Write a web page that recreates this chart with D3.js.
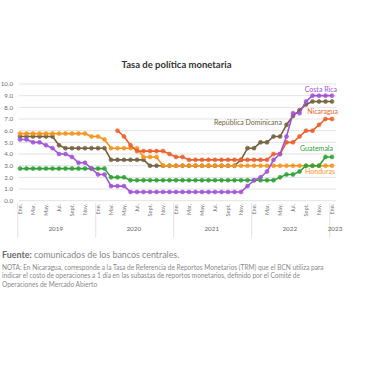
<!DOCTYPE html>
<html><head><meta charset="utf-8">
<script src="https://cdn.jsdelivr.net/npm/d3@7"></script>
<style>
html,body{margin:0;padding:0;background:#fff;}
svg{display:block;font-family:Lato,"Open Sans",sans-serif;}
</style></head>
<body><svg id="c" width="380" height="380"></svg>
<script>
const years = ["2019","2020","2021","2022","2023"];
const monthNames = ["Ene.","Feb.","Mar.","Abr.","May.","Jun.","Jul.","Ago.","Sept.","Oct.","Nov.","Dic."];
const categories = [];
years.forEach((y,yi)=>monthNames.forEach((m,mi)=>{ if(yi<4||mi===0) categories.push(y+"-"+m); }));
const shownMonths = ["Ene.","Mar.","May.","Jul.","Sept.","Nov."];
const yTicks = [0,1,2,3,4,5,6,7,8,9,10];

const costaRica = [5.25,5.25,5.0,5.0,4.75,4.5,4.0,4.0,3.75,3.25,3.25,2.75,
  2.25,2.25,1.25,1.25,1.25,0.75,0.75,0.75,0.75,0.75,0.75,0.75,
  0.75,0.75,0.75,0.75,0.75,0.75,0.75,0.75,0.75,0.75,0.75,1.25,
  1.75,2.0,2.5,3.5,4.0,5.5,7.5,7.5,8.5,9.0,9.0,9.0,
  9.0];
const repDominicana = [5.5,5.5,5.5,5.5,5.5,5.5,4.75,4.5,4.5,4.5,4.5,4.5,
  4.5,4.5,3.5,3.5,3.5,3.5,3.5,3.5,3.0,3.0,3.0,3.0,
  3.0,3.0,3.0,3.0,3.0,3.0,3.0,3.0,3.0,3.0,3.5,4.5,
  4.5,5.0,5.0,5.5,5.5,6.5,7.25,7.75,8.25,8.5,8.5,8.5,
  8.5];
const honduras = [5.75,5.75,5.75,5.75,5.75,5.75,5.75,5.75,5.75,5.75,5.75,5.5,
  5.5,5.25,4.5,4.5,4.5,4.5,4.5,3.75,3.75,3.75,3.0,3.0,
  3.0,3.0,3.0,3.0,3.0,3.0,3.0,3.0,3.0,3.0,3.0,3.0,
  3.0,3.0,3.0,3.0,3.0,3.0,3.0,3.0,3.0,3.0,3.0,3.0,
  3.0];
const nicaragua = [null,null,null,null,null,null,null,null,null,null,null,null,
  null,null,null,6.0,5.5,4.75,4.25,4.25,4.25,4.25,4.25,4.0,
  3.75,3.75,3.5,3.5,3.5,3.5,3.5,3.5,3.5,3.5,3.5,3.5,
  3.5,3.5,3.5,4.0,4.0,5.0,5.0,5.5,6.0,6.0,6.5,7.0,
  7.0];
const guatemala = [2.75,2.75,2.75,2.75,2.75,2.75,2.75,2.75,2.75,2.75,2.75,2.75,
  2.75,2.75,2.0,2.0,2.0,1.75,1.75,1.75,1.75,1.75,1.75,1.75,
  1.75,1.75,1.75,1.75,1.75,1.75,1.75,1.75,1.75,1.75,1.75,1.75,
  1.75,1.75,1.75,1.75,2.0,2.25,2.25,2.5,3.0,3.0,3.0,3.75,
  3.75];

const series = [
  {name:"República Dominicana", values:repDominicana, color:"#75603f", lx:282, ly:125},
  {name:"Honduras", values:honduras, color:"#f7941d", lx:335, ly:174},
  {name:"Guatemala", values:guatemala, color:"#2fa236", lx:333, ly:151},
  {name:"Nicaragua", values:nicaragua, color:"#ec5f2a", lx:338, ly:114},
  {name:"Costa Rica", values:costaRica, color:"#a154d8", lx:337, ly:92}
];

const svg = d3.select("#c");
const x = d3.scalePoint().domain(categories).range([20,332]);
const y = d3.scaleLinear().domain([0,10]).range([200.7,84]);

// grid
svg.append("g").selectAll("line").data(yTicks).join("line")
  .attr("x1",19).attr("x2",336).attr("y1",d=>y(d)).attr("y2",d=>y(d))
  .attr("stroke","#e3e3e3").attr("stroke-width",1);
svg.append("g").selectAll("text").data(yTicks).join("text")
  .attr("x",13).attr("y",d=>y(d)).attr("dy","0.35em").attr("text-anchor","end")
  .attr("font-size",6.2).attr("fill","#6b6b6b").text(d=>d.toFixed(1));

// x tick labels
const tickCats = categories.filter(c=>shownMonths.includes(c.split("-")[1]));
svg.append("g").selectAll("text").data(tickCats).join("text")
  .attr("transform",d=>`translate(${x(d)+2},204) rotate(-90)`)
  .attr("text-anchor","end").attr("font-size",5.6).attr("fill","#777")
  .text(d=>d.split("-")[1]);

// year separators & labels
const step = x.step();
years.forEach((yr,i)=>{
  const first = x(yr+"-Ene.");
  svg.append("line").attr("x1",first-step/2+1).attr("x2",first-step/2+1)
    .attr("y1",203).attr("y2",238).attr("stroke","#e3e3e3").attr("stroke-width",1);
  const last = i<4 ? x(yr+"-Dic.") : first;
  svg.append("text").attr("x",i<4?(first+last)/2:first+3).attr("y",230.5)
    .attr("text-anchor","middle").attr("font-size",6.3).attr("fill","#666").text(yr);
});

// lines
const line = d3.line().defined(d=>d.v!=null).x(d=>x(d.c)).y(d=>y(d.v));
series.forEach(s=>{
  const pts = s.values.map((v,i)=>({c:categories[i],v}));
  svg.append("path").datum(pts).attr("d",line).attr("fill","none")
    .attr("stroke",s.color).attr("stroke-width",1.6).attr("stroke-linejoin","round");
  svg.append("g").selectAll("circle").data(pts.filter(d=>d.v!=null)).join("circle")
    .attr("cx",d=>x(d.c)).attr("cy",d=>y(d.v)).attr("r",2)
    .attr("fill",s.color).attr("fill-opacity",0.85).attr("stroke",s.color).attr("stroke-width",0.6);
});
series.forEach(s=>{
  svg.append("text").attr("x",s.lx).attr("y",s.ly).attr("text-anchor","end")
    .attr("font-size",7).attr("fill",s.color).text(s.name);
});

// title
svg.append("text").attr("x",176.5).attr("y",68).attr("text-anchor","middle")
  .attr("font-size",9.5).attr("font-weight","bold").attr("fill","#333")
  .text("Tasa de política monetaria");

// footer
const f = svg.append("text").attr("x",2).attr("y",258).attr("font-size",8.9).attr("fill","#888");
f.append("tspan").attr("font-weight","bold").attr("fill","#6a6a6a").text("Fuente:");
f.append("tspan").text(" comunicados de los bancos centrales.");
const notes = ["NOTA: En Nicaragua, corresponde a la Tasa de Referencia de Reportos Monetarios (TRM) que el BCN utiliza para",
  "indicar el costo de operaciones a 1 día en las subastas de reportos monetarios, definido por el Comité de",
  "Operaciones de Mercado Abierto"];
svg.append("g").selectAll("text").data(notes).join("text")
  .attr("x",2).attr("y",(d,i)=>269.5+i*8.7).attr("font-size",6.55).attr("fill","#8a8a8a").text(d=>d);
</script></body></html>
